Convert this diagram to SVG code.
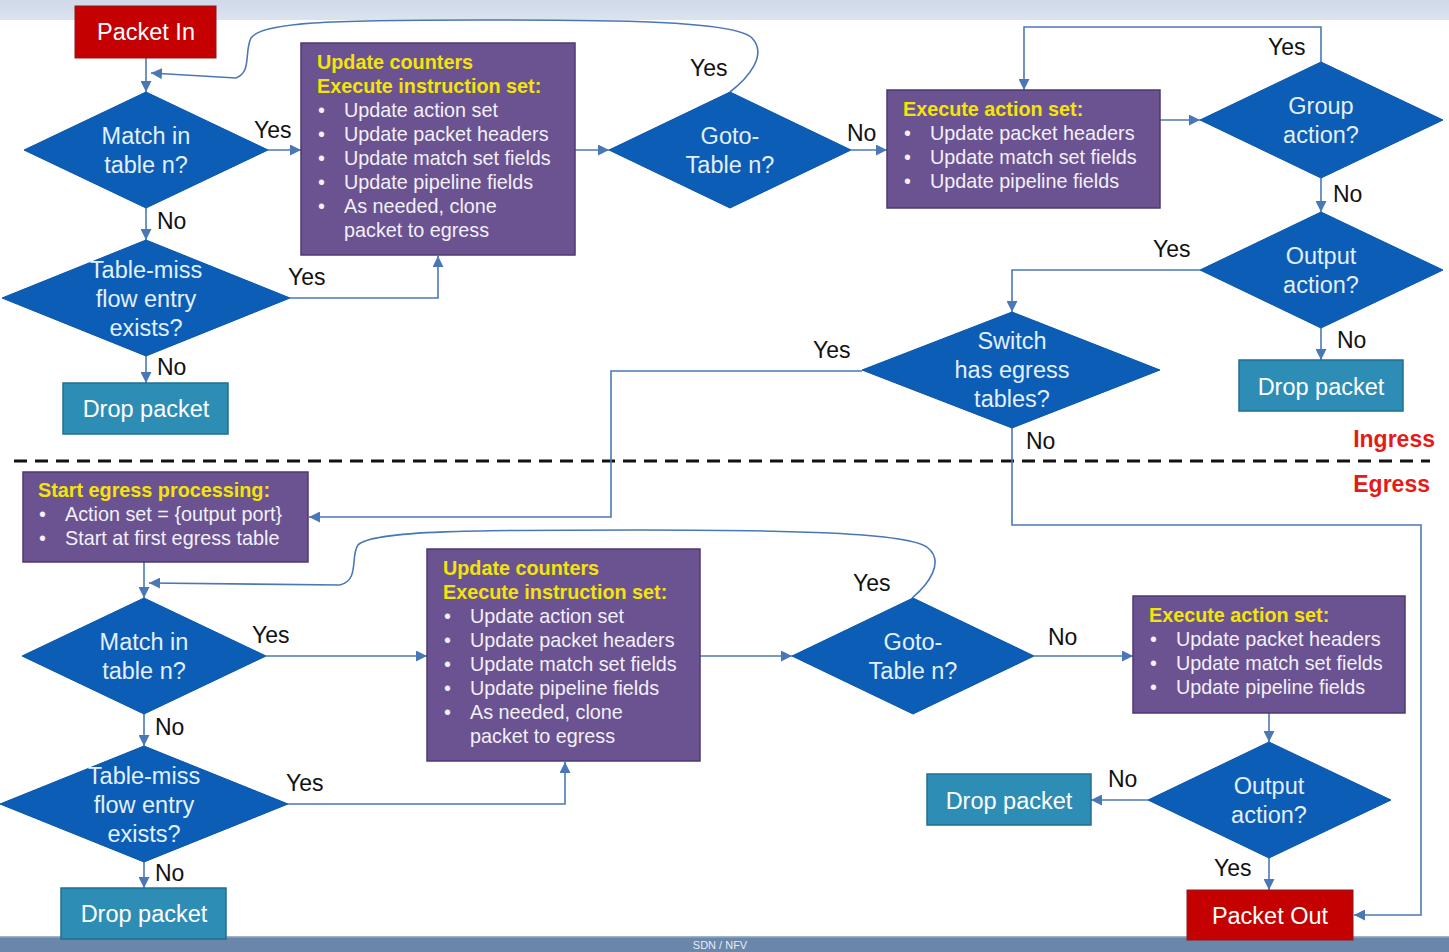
<svg xmlns="http://www.w3.org/2000/svg" width="1449" height="952" viewBox="0 0 1449 952">
<defs>
<marker id="ah" viewBox="0 0 10 10" refX="10" refY="5" markerWidth="11" markerHeight="11" markerUnits="userSpaceOnUse" orient="auto">
<path d="M0,0 L10,5 L0,10 z" fill="#4a78b6"/>
</marker>
<linearGradient id="topband" x1="0" y1="0" x2="0" y2="1">
<stop offset="0" stop-color="#cfd9e8"/>
<stop offset="1" stop-color="#dbe3ee"/>
</linearGradient>
</defs>
<style>
.dia{fill:#0b5db6;stroke:#0a56a8;stroke-width:1}
.dt{font-family:"Liberation Sans",Arial,sans-serif;font-size:23.5px;fill:#e2f0ff;text-anchor:middle}
.pur{fill:#6b5391;stroke:#4c3a70;stroke-width:1.5}
.red{fill:#c40000;stroke:#8a1a1a;stroke-width:1}
.drop{fill:#2e8db5;stroke:#1f6f92;stroke-width:1.5}
.bt{font-family:"Liberation Sans",Arial,sans-serif;font-size:23.5px;fill:#ffffff;text-anchor:middle}
.ttl{font-family:"Liberation Sans",Arial,sans-serif;font-size:19.8px;font-weight:bold;fill:#f4e40a}
.bl{font-family:"Liberation Sans",Arial,sans-serif;font-size:19.8px;fill:#f2f0f8}
.lbl{font-family:"Liberation Sans",Arial,sans-serif;font-size:23px;fill:#111}
.con{fill:none;stroke:#4a78b6;stroke-width:1.6}
.arr{marker-end:url(#ah)}
.sec{font-family:"Liberation Sans",Arial,sans-serif;font-size:23px;font-weight:bold;fill:#e41b17;text-anchor:end}
</style>
<rect x="0" y="0" width="1449" height="952" fill="#ffffff"/>
<rect x="0" y="0" width="1449" height="20" fill="url(#topband)"/>
<rect x="0" y="937" width="1449" height="15" fill="#6a86a8"/>
<rect x="0" y="936" width="1449" height="1.5" fill="#9fb2c8"/>
<text x="720" y="949" font-family="Liberation Sans,Arial,sans-serif" font-size="11" fill="#e6ecf4" text-anchor="middle">SDN / NFV</text>

<line x1="14" y1="461" x2="1430" y2="461" stroke="#111" stroke-width="3" stroke-dasharray="13,8"/>
<text class="sec" x="1435" y="447">Ingress</text>
<text class="sec" x="1430" y="492">Egress</text>

<g id="connectors">
<!-- ingress -->
<line class="con arr" x1="146" y1="58" x2="146" y2="92"/>
<path class="con arr" d="M730,92 C748,78 768,55 752,38 C735,20 600,20 480,20 C330,20 262,22 251,38 C244,52 252,72 236,78 L151,73"/>
<line class="con arr" x1="268" y1="150" x2="301" y2="150"/>
<line class="con arr" x1="146" y1="208" x2="146" y2="240"/>
<polyline class="con arr" points="290,298 438,298 438,256"/>
<line class="con arr" x1="146" y1="356" x2="146" y2="383"/>
<line class="con arr" x1="575" y1="150" x2="609" y2="150"/>
<line class="con arr" x1="851" y1="150" x2="887" y2="150"/>
<line class="con arr" x1="1160" y1="120" x2="1200" y2="120"/>
<polyline class="con arr" points="1321,62 1321,27 1024,27 1024,90"/>
<line class="con arr" x1="1321" y1="178" x2="1321" y2="212"/>
<polyline class="con arr" points="1200,270 1012,270 1012,312"/>
<line class="con arr" x1="1321" y1="328" x2="1321" y2="360"/>
<polyline class="con arr" points="862,371 611,371 611,517 309,517"/>
<polyline class="con arr" points="1012,428 1012,525 1421,525 1421,915 1354,915"/>
<!-- egress -->
<line class="con arr" x1="144" y1="562" x2="144" y2="598"/>
<path class="con arr" d="M912,598 C928,585 945,562 928,548 C910,532 780,530 640,530 C480,530 372,530 358,545 C350,556 360,580 340,585 L149,583"/>
<line class="con arr" x1="266" y1="656" x2="427" y2="656"/>
<line class="con arr" x1="144" y1="714" x2="144" y2="746"/>
<polyline class="con arr" points="288,804 565,804 565,762"/>
<line class="con arr" x1="144" y1="862" x2="144" y2="888"/>
<line class="con arr" x1="700" y1="656" x2="792" y2="656"/>
<line class="con arr" x1="1034" y1="656" x2="1133" y2="656"/>
<line class="con arr" x1="1269" y1="713" x2="1269" y2="742"/>
<line class="con arr" x1="1148" y1="800" x2="1091" y2="800"/>
<line class="con arr" x1="1269" y1="858" x2="1269" y2="890"/>
<!-- labels -->
<text class="lbl" x="254" y="138">Yes</text>
<text class="lbl" x="157" y="229">No</text>
<text class="lbl" x="288" y="285">Yes</text>
<text class="lbl" x="157" y="375">No</text>
<text class="lbl" x="690" y="76">Yes</text>
<text class="lbl" x="847" y="141">No</text>
<text class="lbl" x="1268" y="55">Yes</text>
<text class="lbl" x="1333" y="202">No</text>
<text class="lbl" x="1153" y="257">Yes</text>
<text class="lbl" x="1337" y="348">No</text>
<text class="lbl" x="813" y="358">Yes</text>
<text class="lbl" x="1026" y="449">No</text>
<text class="lbl" x="252" y="643">Yes</text>
<text class="lbl" x="155" y="735">No</text>
<text class="lbl" x="286" y="791">Yes</text>
<text class="lbl" x="155" y="881">No</text>
<text class="lbl" x="853" y="591">Yes</text>
<text class="lbl" x="1048" y="645">No</text>
<text class="lbl" x="1108" y="787">No</text>
<text class="lbl" x="1214" y="876">Yes</text>
</g>

<g id="packet-in">
<rect class="red" x="75" y="6" width="141" height="52"/>
<text class="bt" x="146" y="40">Packet In</text>
</g>

<g id="match-ingress">
<polygon class="dia" points="146,92 268,150 146,208 24,150"/>
<text class="dt" x="146" y="144">Match in</text>
<text class="dt" x="146" y="173">table n?</text>
</g>

<g id="tablemiss-ingress">
<polygon class="dia" points="146,240 290,298 146,356 2,298"/>
<text class="dt" x="146" y="278">Table-miss</text>
<text class="dt" x="146" y="307">flow entry</text>
<text class="dt" x="146" y="336">exists?</text>
</g>

<g id="drop-ingress-1">
<rect class="drop" x="63" y="383" width="165" height="51"/>
<text class="bt" x="146" y="417">Drop packet</text>
</g>

<g id="instr-ingress">
<rect class="pur" x="301" y="43" width="274" height="212"/>
<text class="ttl" x="317" y="69">Update counters</text>
<text class="ttl" x="317" y="93">Execute instruction set:</text>
<text class="bl" x="318" y="117">•</text><text class="bl" x="344" y="117">Update action set</text>
<text class="bl" x="318" y="141">•</text><text class="bl" x="344" y="141">Update packet headers</text>
<text class="bl" x="318" y="165">•</text><text class="bl" x="344" y="165">Update match set fields</text>
<text class="bl" x="318" y="189">•</text><text class="bl" x="344" y="189">Update pipeline fields</text>
<text class="bl" x="318" y="213">•</text><text class="bl" x="344" y="213">As needed, clone</text>
<text class="bl" x="344" y="237">packet to egress</text>
</g>

<g id="goto-ingress">
<polygon class="dia" points="730,92 851,150 730,208 609,150"/>
<text class="dt" x="730" y="144">Goto-</text>
<text class="dt" x="730" y="173">Table n?</text>
</g>

<g id="action-ingress">
<rect class="pur" x="887" y="90" width="273" height="118"/>
<text class="ttl" x="903" y="116">Execute action set:</text>
<text class="bl" x="904" y="140">•</text><text class="bl" x="930" y="140">Update packet headers</text>
<text class="bl" x="904" y="164">•</text><text class="bl" x="930" y="164">Update match set fields</text>
<text class="bl" x="904" y="188">•</text><text class="bl" x="930" y="188">Update pipeline fields</text>
</g>

<g id="group-action">
<polygon class="dia" points="1321,62 1443,120 1321,178 1200,120"/>
<text class="dt" x="1321" y="114">Group</text>
<text class="dt" x="1321" y="143">action?</text>
</g>

<g id="output-ingress">
<polygon class="dia" points="1321,212 1443,270 1321,328 1200,270"/>
<text class="dt" x="1321" y="264">Output</text>
<text class="dt" x="1321" y="293">action?</text>
</g>

<g id="drop-ingress-2">
<rect class="drop" x="1239" y="360" width="164" height="51"/>
<text class="bt" x="1321" y="395">Drop packet</text>
</g>

<g id="switch-egress">
<polygon class="dia" points="1012,312 1160,370 1012,428 862,370"/>
<text class="dt" x="1012" y="349">Switch</text>
<text class="dt" x="1012" y="378">has egress</text>
<text class="dt" x="1012" y="407">tables?</text>
</g>

<g id="start-egress">
<rect class="pur" x="23" y="472" width="285" height="90"/>
<text class="ttl" x="38" y="497">Start egress processing:</text>
<text class="bl" x="39" y="521">•</text><text class="bl" x="65" y="521">Action set = {output port}</text>
<text class="bl" x="39" y="545">•</text><text class="bl" x="65" y="545">Start at first egress table</text>
</g>

<g id="match-egress">
<polygon class="dia" points="144,598 266,656 144,714 22,656"/>
<text class="dt" x="144" y="650">Match in</text>
<text class="dt" x="144" y="679">table n?</text>
</g>

<g id="tablemiss-egress">
<polygon class="dia" points="144,746 288,804 144,862 0,804"/>
<text class="dt" x="144" y="784">Table-miss</text>
<text class="dt" x="144" y="813">flow entry</text>
<text class="dt" x="144" y="842">exists?</text>
</g>

<g id="drop-egress-1">
<rect class="drop" x="61" y="888" width="165" height="51"/>
<text class="bt" x="144" y="922">Drop packet</text>
</g>

<g id="instr-egress">
<rect class="pur" x="427" y="549" width="273" height="212"/>
<text class="ttl" x="443" y="575">Update counters</text>
<text class="ttl" x="443" y="599">Execute instruction set:</text>
<text class="bl" x="444" y="623">•</text><text class="bl" x="470" y="623">Update action set</text>
<text class="bl" x="444" y="647">•</text><text class="bl" x="470" y="647">Update packet headers</text>
<text class="bl" x="444" y="671">•</text><text class="bl" x="470" y="671">Update match set fields</text>
<text class="bl" x="444" y="695">•</text><text class="bl" x="470" y="695">Update pipeline fields</text>
<text class="bl" x="444" y="719">•</text><text class="bl" x="470" y="719">As needed, clone</text>
<text class="bl" x="470" y="743">packet to egress</text>
</g>

<g id="goto-egress">
<polygon class="dia" points="913,598 1034,656 913,714 792,656"/>
<text class="dt" x="913" y="650">Goto-</text>
<text class="dt" x="913" y="679">Table n?</text>
</g>

<g id="action-egress">
<rect class="pur" x="1133" y="596" width="272" height="117"/>
<text class="ttl" x="1149" y="622">Execute action set:</text>
<text class="bl" x="1150" y="646">•</text><text class="bl" x="1176" y="646">Update packet headers</text>
<text class="bl" x="1150" y="670">•</text><text class="bl" x="1176" y="670">Update match set fields</text>
<text class="bl" x="1150" y="694">•</text><text class="bl" x="1176" y="694">Update pipeline fields</text>
</g>

<g id="output-egress">
<polygon class="dia" points="1269,742 1391,800 1269,858 1148,800"/>
<text class="dt" x="1269" y="794">Output</text>
<text class="dt" x="1269" y="823">action?</text>
</g>

<g id="drop-egress-2">
<rect class="drop" x="927" y="774" width="164" height="51"/>
<text class="bt" x="1009" y="809">Drop packet</text>
</g>

<g id="packet-out">
<rect class="red" x="1187" y="890" width="166" height="50"/>
<text class="bt" x="1270" y="924">Packet Out</text>
</g>
</svg>
